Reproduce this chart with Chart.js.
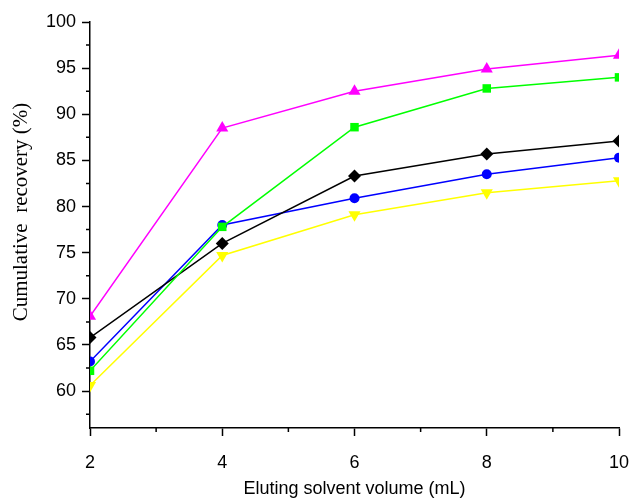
<!DOCTYPE html>
<html>
<head>
<meta charset="utf-8">
<script src="https://cdn.jsdelivr.net/npm/chart.js@4"></script>
<style>
  html, body { margin: 0; padding: 0; background: #fff; }
  #wrap { width: 631px; height: 500px; }
</style>
</head>
<body>
<div id="wrap"><canvas id="chart" width="631" height="500"></canvas></div>
<script>
// Data
const volumes = [2, 4, 6, 8, 10];
const magentaSeries = [68.1, 88.5, 92.5, 94.9, 96.4];
const greenSeries = [62.2, 77.8, 88.6, 92.8, 94.0];
const blackSeries = [65.8, 76.0, 83.3, 85.7, 87.1];
const blueSeries = [63.2, 78.0, 80.9, 83.5, 85.3];
const yellowSeries = [60.6, 74.7, 79.1, 81.5, 82.8];
const xTicks = [2, 4, 6, 8, 10];
const yTicks = [60, 65, 70, 75, 80, 85, 90, 95, 100];
const xMinor = [3, 5, 7, 9];
const yMinor = [57.5, 62.5, 67.5, 72.5, 77.5, 82.5, 87.5, 92.5, 97.5];
const yTitle = 'Cumulative  recovery (%)';

function series(values, color, style, radius, rotation) {
    return {
        data: values.map((v, i) => ({ x: volumes[i], y: v })),
        borderColor: color,
        backgroundColor: color,
        borderWidth: 1.5,
        pointStyle: style,
        pointRotation: rotation || 0,
        pointRadius: radius,
        pointBorderWidth: 0,
        tension: 0,
        clip: 0
    };
}

// minor tick marks + serif y title
const extras = {
    id: 'extras',
    afterDraw(chart) {
        const ctx = chart.ctx;
        const xs = chart.scales.x, ys = chart.scales.y;
        const area = chart.chartArea;
        ctx.save();
        ctx.strokeStyle = '#000';
        ctx.lineWidth = 1.5;
        ctx.beginPath();
        xMinor.forEach(v => {
            const px = xs.getPixelForValue(v);
            ctx.moveTo(px, area.bottom);
            ctx.lineTo(px, area.bottom + 4);
        });
        yMinor.forEach(v => {
            const py = ys.getPixelForValue(v);
            ctx.moveTo(area.left, py);
            ctx.lineTo(area.left - 4, py);
        });
        ctx.stroke();

        ctx.translate(21, 212);
        ctx.rotate(-Math.PI / 2);
        ctx.fillStyle = '#000';
        ctx.font = '21px "Liberation Serif", "Times New Roman", serif';
        ctx.textAlign = 'center';
        ctx.textBaseline = 'middle';
        ctx.fillText(yTitle, 0, 0);
        ctx.restore();
    }
};

Chart.defaults.font.family = '"Liberation Sans", Arial, sans-serif';
Chart.defaults.color = '#000';

new Chart(document.getElementById('chart'), {
    type: 'line',
    data: {
        datasets: [
            series(magentaSeries, '#ff00ff', 'triangle', 7),
            series(greenSeries, '#00ff00', 'rect', 6),
            series(blackSeries, '#000000', 'rectRot', 6.5),
            series(blueSeries, '#0000ff', 'circle', 5),
            series(yellowSeries, '#ffff00', 'triangle', 7, 180)
        ]
    },
    options: {
        responsive: false,
        animation: false,
        layout: { padding: { top: 22, right: 12, left: 0, bottom: 0 } },
        plugins: { legend: { display: false }, tooltip: { enabled: false } },
        scales: {
            x: {
                type: 'linear',
                min: 2,
                max: 10,
                afterBuildTicks: s => { s.ticks = xTicks.map(v => ({ value: v })); },
                afterFit: s => { s.height = 72; s.paddingRight = 0; s.paddingLeft = 0; },
                grid: { drawOnChartArea: false, drawTicks: true, tickLength: 8, tickWidth: 1.5, tickColor: '#000' },
                border: { color: '#000', width: 1.5 },
                ticks: { font: { size: 18 }, padding: 16, maxRotation: 0 },
                title: {
                    display: true,
                    text: 'Eluting solvent volume (mL)',
                    font: { size: 18 },
                    padding: { top: 2, bottom: 0 }
                }
            },
            y: {
                type: 'linear',
                min: 56,
                max: 100,
                afterBuildTicks: s => { s.ticks = yTicks.map(v => ({ value: v })); },
                afterFit: s => { s.width = 90; },
                grid: { drawOnChartArea: false, drawTicks: true, tickLength: 8, tickWidth: 1.5, tickColor: '#000' },
                border: { color: '#000', width: 1.5 },
                ticks: { font: { size: 18 }, padding: 6 }
            }
        }
    },
    plugins: [extras]
});
</script>
</body>
</html>
